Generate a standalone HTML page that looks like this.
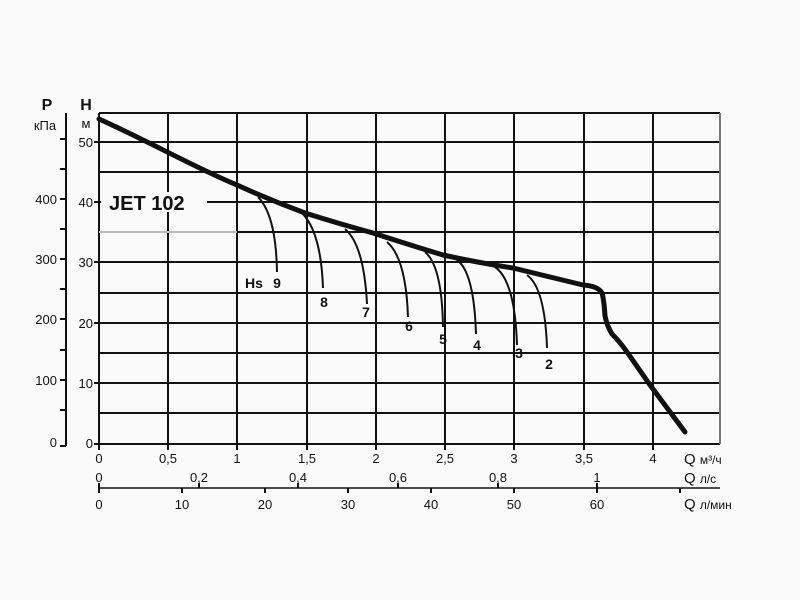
<!DOCTYPE html>
<html><head><meta charset="utf-8"><style>
html,body{margin:0;padding:0;background:#fafafa;}
svg{display:block;}
text{font-family:"Liberation Sans",Arial,sans-serif;fill:#111;}
</style></head><body>
<svg width="800" height="600" viewBox="0 0 800 600" xmlns="http://www.w3.org/2000/svg">
<rect width="800" height="600" fill="#fafafa"/>
<g stroke="#111" stroke-width="2" fill="none">
<line x1="99" y1="113" x2="720" y2="113"/>
<line x1="99" y1="142" x2="720" y2="142"/>
<line x1="99" y1="172" x2="720" y2="172"/>
<line x1="99" y1="202" x2="720" y2="202"/>
<line x1="237" y1="232" x2="720" y2="232"/>
<line x1="99" y1="262" x2="720" y2="262"/>
<line x1="99" y1="293" x2="720" y2="293"/>
<line x1="99" y1="323" x2="720" y2="323"/>
<line x1="99" y1="353" x2="720" y2="353"/>
<line x1="99" y1="383" x2="720" y2="383"/>
<line x1="99" y1="413" x2="720" y2="413"/>
<line x1="99" y1="444" x2="720" y2="444"/>
<line x1="99" y1="113" x2="99" y2="450"/>
<line x1="168" y1="113" x2="168" y2="450"/>
<line x1="237" y1="113" x2="237" y2="450"/>
<line x1="307" y1="113" x2="307" y2="450"/>
<line x1="376" y1="113" x2="376" y2="450"/>
<line x1="445" y1="113" x2="445" y2="450"/>
<line x1="514" y1="113" x2="514" y2="450"/>
<line x1="584" y1="113" x2="584" y2="450"/>
<line x1="653" y1="113" x2="653" y2="450"/>
<line x1="720" y1="113" x2="720" y2="444" stroke="#777"/>
<line x1="94" y1="142" x2="99" y2="142"/>
<line x1="94" y1="202" x2="99" y2="202"/>
<line x1="94" y1="262" x2="99" y2="262"/>
<line x1="94" y1="323" x2="99" y2="323"/>
<line x1="94" y1="383" x2="99" y2="383"/>
<line x1="94" y1="444" x2="99" y2="444"/>
<line x1="66" y1="113" x2="66" y2="446"/>
<line x1="60" y1="446" x2="66" y2="446"/>
<line x1="60" y1="139" x2="66" y2="139"/>
<line x1="60" y1="169" x2="66" y2="169"/>
<line x1="60" y1="199" x2="66" y2="199"/>
<line x1="60" y1="229" x2="66" y2="229"/>
<line x1="60" y1="259" x2="66" y2="259"/>
<line x1="60" y1="289" x2="66" y2="289"/>
<line x1="60" y1="319" x2="66" y2="319"/>
<line x1="60" y1="350" x2="66" y2="350"/>
<line x1="60" y1="380" x2="66" y2="380"/>
<line x1="60" y1="410" x2="66" y2="410"/>
<line x1="99" y1="488" x2="720" y2="488" stroke-width="1.5"/>
<line x1="99" y1="483" x2="99" y2="493"/>
<line x1="182" y1="488" x2="182" y2="493"/>
<line x1="265" y1="488" x2="265" y2="493"/>
<line x1="348" y1="488" x2="348" y2="493"/>
<line x1="431" y1="488" x2="431" y2="493"/>
<line x1="514" y1="488" x2="514" y2="493"/>
<line x1="597" y1="488" x2="597" y2="493"/>
<line x1="680" y1="488" x2="680" y2="493"/>
<line x1="199" y1="483" x2="199" y2="488"/>
<line x1="298" y1="483" x2="298" y2="488"/>
<line x1="398" y1="483" x2="398" y2="488"/>
<line x1="498" y1="483" x2="498" y2="488"/>
<line x1="597" y1="483" x2="597" y2="488"/>
</g>
<line x1="99" y1="232" x2="237" y2="232" stroke="#bbb" stroke-width="2"/>
<rect x="101" y="192" width="106" height="20" fill="#fafafa"/>
<text x="109" y="210" font-size="20" font-weight="bold">JET 102</text>
<path d="M99,119 C150,142 200,170 237,185 Q270,200 305,213 Q340,224 373,233 Q410,245 443,255 Q480,263 513,268 L583,285 Q598,286 602,293 Q604,300 605,316 Q607,326 612,334 Q620,342 627,352 L650,385 L685,432" stroke="#111" stroke-width="5" fill="none" stroke-linejoin="round" stroke-linecap="round"/>
<g stroke="#111" stroke-width="2" fill="none">
<path d="M258,197 Q276,215 277,272"/>
<path d="M302,213 Q321,232 323,288"/>
<path d="M345,229 Q364,245 367,304"/>
<path d="M387,242 Q406,258 408,317"/>
<path d="M425,252 Q442,266 443,327"/>
<path d="M457,260 Q474,272 476,334"/>
<path d="M495,267 Q515,281 517,345"/>
<path d="M527,275 Q545,288 547,348"/>
</g>
<g font-size="14" font-weight="bold" text-anchor="middle">
<text x="254" y="288">Hs</text>
<text x="277" y="288">9</text>
<text x="324" y="307">8</text>
<text x="366" y="317">7</text>
<text x="409" y="331">6</text>
<text x="443" y="344">5</text>
<text x="477" y="350">4</text>
<text x="519" y="358">3</text>
<text x="549" y="369">2</text>
</g>
<g font-size="16" font-weight="bold" text-anchor="middle">
<text x="47" y="110">P</text>
<text x="86" y="110">H</text>
</g>
<g font-size="13" text-anchor="middle">
<text x="45" y="130">кПа</text>
<text x="86" y="128">м</text>
</g>
<g font-size="13" text-anchor="end">
<text x="93" y="147">50</text>
<text x="93" y="207">40</text>
<text x="93" y="267">30</text>
<text x="93" y="328">20</text>
<text x="93" y="388">10</text>
<text x="93" y="448">0</text>
<text x="57" y="204">400</text>
<text x="57" y="264">300</text>
<text x="57" y="324">200</text>
<text x="57" y="385">100</text>
<text x="57" y="447">0</text>
</g>
<g font-size="13" text-anchor="middle">
<text x="99" y="463">0</text><text x="168" y="463">0,5</text><text x="237" y="463">1</text>
<text x="307" y="463">1,5</text><text x="376" y="463">2</text><text x="445" y="463">2,5</text>
<text x="514" y="463">3</text><text x="584" y="463">3,5</text><text x="653" y="463">4</text>
<text x="99" y="482">0</text><text x="199" y="482">0,2</text><text x="298" y="482">0,4</text>
<text x="398" y="482">0,6</text><text x="498" y="482">0,8</text><text x="597" y="482">1</text>
<text x="99" y="509">0</text><text x="182" y="509">10</text><text x="265" y="509">20</text>
<text x="348" y="509">30</text><text x="431" y="509">40</text><text x="514" y="509">50</text>
<text x="597" y="509">60</text>
</g>
<text x="684" y="464" font-size="15">Q <tspan font-size="12">м³/ч</tspan></text>
<text x="684" y="483" font-size="15">Q <tspan font-size="12">л/с</tspan></text>
<text x="684" y="509" font-size="15">Q <tspan font-size="12">л/мин</tspan></text>
</svg>
</body></html>
